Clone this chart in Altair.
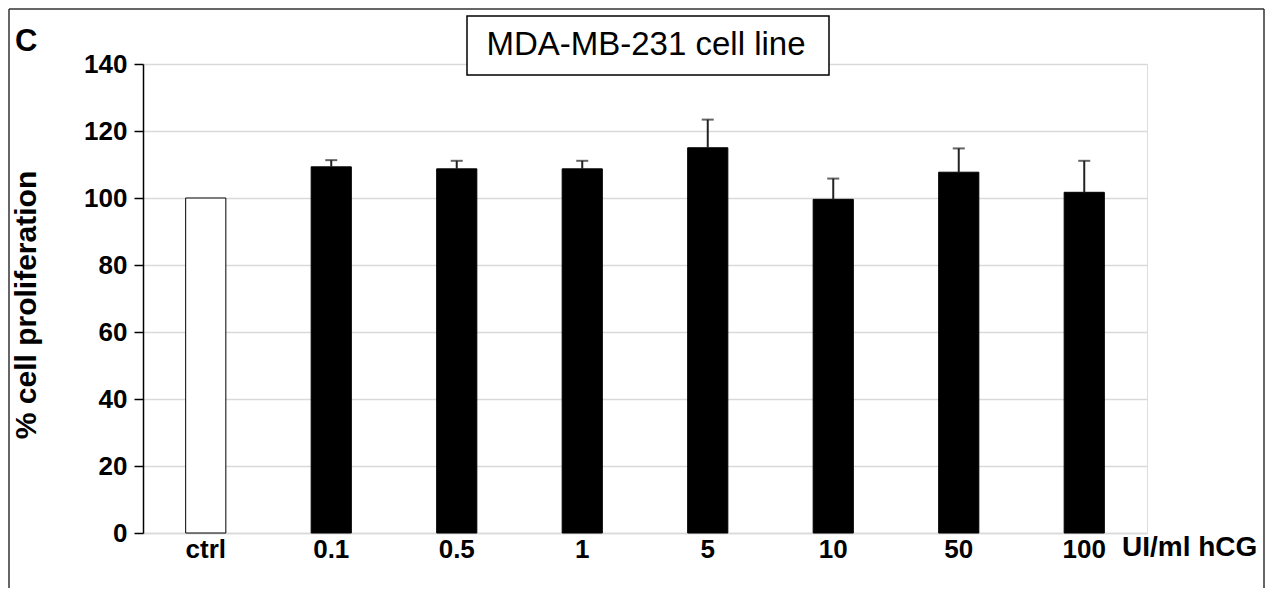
import altair as alt
import pandas as pd

categories = ["ctrl", "0.1", "0.5", "1", "5", "10", "50", "100"]
groups = ["ctrl", "hCG", "hCG", "hCG", "hCG", "hCG", "hCG", "hCG"]
means = [100.0, 109.3, 108.7, 108.7, 115.0, 99.6, 107.7, 101.7]
sds = [0.0, 2.0, 2.4, 2.4, 8.4, 6.2, 7.1, 9.4]

df = pd.DataFrame({"dose": categories, "group": groups, "mean": means, "sd": sds})
df["upper"] = df["mean"] + df["sd"]

FONT = "Liberation Sans"

xenc = alt.X("dose:N", sort=categories,
             scale=alt.Scale(paddingInner=0.68, paddingOuter=0.34),
             axis=alt.Axis(title=None, labelAngle=0, labelFontSize=26, labelFontWeight="bold",
                           labelColor="black", labelFont=FONT, ticks=False, domainColor="#d9d9d9",
                           domainWidth=1.5, labelPadding=3))
yscale = alt.Scale(domain=[0, 140])

bars = alt.Chart(df).mark_bar(stroke="black", strokeWidth=1).encode(
    x=xenc,
    y=alt.Y("mean:Q", scale=yscale,
            axis=alt.Axis(title=None, values=[0, 20, 40, 60, 80, 100, 120, 140], labelFontSize=26,
                          labelFontWeight="bold", labelColor="black", labelFont=FONT,
                          domainColor="black", domainWidth=1.5, tickColor="black", tickWidth=1.5,
                          tickSize=9, labelPadding=7, grid=True, gridColor="#d9d9d9", gridWidth=1.5)),
    fill=alt.Color("group:N", scale=alt.Scale(domain=["ctrl", "hCG"], range=["white", "black"]), legend=None),
)

err = alt.Chart(df).transform_filter("datum.sd > 0").mark_rule(color="#222222", strokeWidth=2).encode(
    x=alt.X("dose:N", sort=categories), y=alt.Y("mean:Q", scale=yscale), y2="upper:Q")
cap = alt.Chart(df).transform_filter("datum.sd > 0").mark_tick(color="#222222", thickness=2, size=12).encode(
    x=alt.X("dose:N", sort=categories), y=alt.Y("upper:Q", scale=yscale))

one = pd.DataFrame({"a": [0]})

title_box = alt.Chart(one).mark_rect(fill="white", stroke="black", strokeWidth=1.5).encode(
    x=alt.value(324), x2=alt.value(686), y=alt.value(-48), y2=alt.value(11))
title_txt = alt.Chart(pd.DataFrame({"t": ["MDA-MB-231 cell line"]})).mark_text(
    font=FONT, fontSize=33, color="black", align="center", baseline="middle").encode(
    x=alt.value(503), y=alt.value(-19), text="t:N")
c_txt = alt.Chart(pd.DataFrame({"t": ["C"]})).mark_text(
    font=FONT, fontSize=31, fontWeight="bold", color="black", align="left", baseline="middle").encode(
    x=alt.value(-128), y=alt.value(-22), text="t:N")
ytitle = alt.Chart(pd.DataFrame({"t": ["% cell proliferation"]})).mark_text(
    font=FONT, fontSize=30, fontWeight="bold", color="black", align="center", baseline="middle", angle=270).encode(
    x=alt.value(-116), y=alt.value(241), text="t:N")
unit_txt = alt.Chart(pd.DataFrame({"t": ["UI/ml hCG"]})).mark_text(
    font=FONT, fontSize=28, fontWeight="bold", color="black", align="left", baseline="middle").encode(
    x=alt.value(979), y=alt.value(484), text="t:N")

frame_left = alt.Chart(one).mark_rule(color="#333333", strokeWidth=1.5).encode(
    x=alt.value(-134), y=alt.value(-55), y2=alt.value(600))
frame_top = alt.Chart(one).mark_rule(color="#333333", strokeWidth=1.5).encode(
    x=alt.value(-134), x2=alt.value(1121), y=alt.value(-55))
frame_right = alt.Chart(one).mark_rule(color="#333333", strokeWidth=1.5).encode(
    x=alt.value(1121), y=alt.value(-55), y2=alt.value(600))

chart = alt.layer(bars, err, cap, title_box, title_txt, c_txt, ytitle, unit_txt,
                  frame_left, frame_top, frame_right).properties(
    width=1004, height=469,
    padding={"left": 135, "top": 56, "right": 118, "bottom": 55},
    autosize=alt.AutoSizeParams(type="none"),
).configure_view(stroke=None).configure(background="white")

chart.save("out.html", embed_options={"renderer": "svg", "actions": False})
